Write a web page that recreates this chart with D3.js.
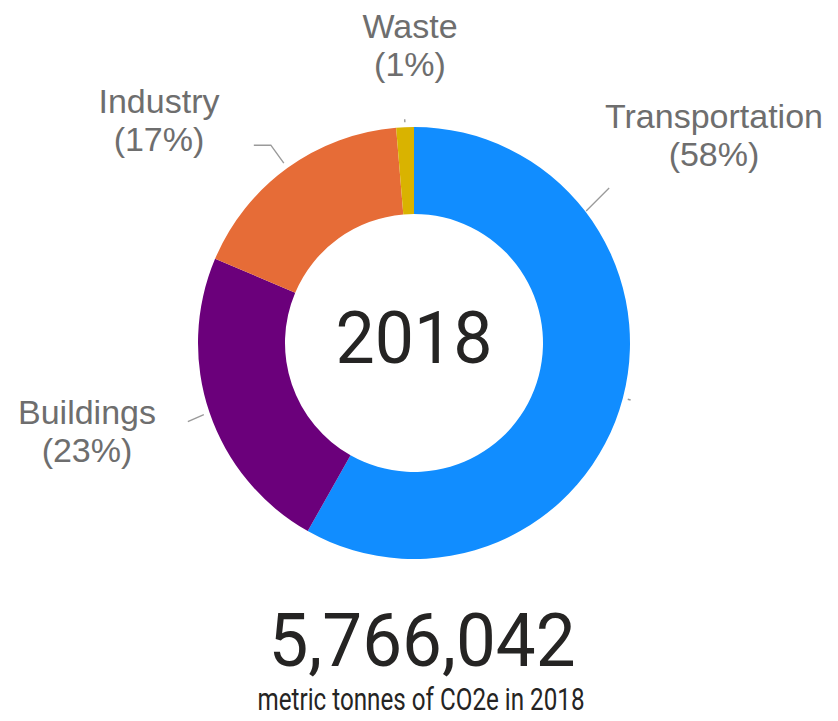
<!DOCTYPE html>
<html>
<head>
<meta charset="utf-8">
<script src="https://cdn.jsdelivr.net/npm/d3@7/dist/d3.min.js"></script>
<style>
  html, body { margin: 0; padding: 0; background: #ffffff; }
  svg { display: block; }
</style>
</head>
<body>
<svg id="chart" width="838" height="721"></svg>
<script>
// ---- data ----
const categories = ["Transportation", "Buildings", "Industry", "Waste"];
const values = [3355000, 1337000, 998000, 76042];   // metric tonnes CO2e, 2018
const colors = ["#118DFF", "#6B007B", "#E66C37", "#D9B300"];
const centerTitle = "2018";
const totalLabel = "metric tonnes of CO2e in 2018";

// ---- layout ----
const cx = 414, cy = 343;
const outerR = 216, innerR = 129;

const svg = d3.select("#chart");
const total = d3.sum(values);
const data = categories.map((c, i) => ({ name: c, value: values[i], color: colors[i] }));

const pie = d3.pie().value(d => d.value).sort(null);
const arcs = pie(data);
const arc = d3.arc().innerRadius(innerR).outerRadius(outerR);

const g = svg.append("g").attr("transform", `translate(${cx},${cy})`);
g.selectAll("path.slice")
  .data(arcs)
  .join("path")
  .attr("class", "slice")
  .attr("d", arc)
  .attr("fill", d => d.data.color);

// polar helper: angle measured clockwise from 12 o'clock
const polar = (a, r) => [Math.sin(a) * r, -Math.cos(a) * r];
const deg = Math.PI / 180;

// label placement (layout only)
const labelLayout = {
  "Transportation": { x: 714, y: 128 },
  "Buildings":      { x: 87,  y: 424 },
  "Industry":       { x: 159, y: 113 },
  "Waste":          { x: 410, y: 38 }
};

const fmtPct = d3.format(".0%");
const lineGap = 38;

// leader lines
const leaders = svg.append("g")
  .attr("fill", "none")
  .attr("stroke", "#9a9a9a")
  .attr("stroke-width", 1.4);

arcs.forEach(d => {
  const mid = (d.startAngle + d.endAngle) / 2;
  const p0 = polar(mid, outerR + 5);
  const p1 = polar(mid, outerR + 8);
  const name = d.data.name;
  if (name === "Transportation") {
    leaders.append("line")
      .attr("x1", cx + p0[0]).attr("y1", cy + p0[1])
      .attr("x2", cx + p1[0]).attr("y2", cy + p1[1]);
    const a = 52.5 * deg;
    const s = polar(a, outerR + 1);
    const e = [s[0] + 23, s[1] - 23];
    leaders.append("line")
      .attr("x1", cx + s[0]).attr("y1", cy + s[1])
      .attr("x2", cx + e[0]).attr("y2", cy + e[1]);
  } else if (name === "Industry") {
    const s = polar(mid, outerR + 6);
    const m = [s[0] - 13, s[1] - 18];
    const e = [m[0] - 17, m[1]];
    leaders.append("polyline")
      .attr("points", [s, m, e].map(p => `${cx + p[0]},${cy + p[1]}`).join(" "));
  } else if (name === "Buildings") {
    const s = polar(mid, outerR + 6);
    const e = [s[0] - 16, s[1] + 7];
    leaders.append("line")
      .attr("x1", cx + s[0]).attr("y1", cy + s[1])
      .attr("x2", cx + e[0]).attr("y2", cy + e[1]);
  } else {
    leaders.append("line")
      .attr("x1", cx + p0[0]).attr("y1", cy + p0[1])
      .attr("x2", cx + p1[0]).attr("y2", cy + p1[1]);
  }
});

// category labels
const labels = svg.append("g")
  .attr("font-family", "'Liberation Sans', Arial, sans-serif")
  .attr("font-size", 34)
  .attr("fill", "#6e6e6e")
  .attr("text-anchor", "middle");

arcs.forEach(d => {
  const L = labelLayout[d.data.name];
  const t = labels.append("text").attr("x", L.x).attr("y", L.y);
  t.append("tspan").attr("x", L.x).attr("y", L.y).text(d.data.name);
  t.append("tspan").attr("x", L.x).attr("y", L.y + lineGap)
    .text("(" + fmtPct(d.data.value / total) + ")");
});

// center title
svg.append("text")
  .attr("x", 414).attr("y", 363)
  .attr("text-anchor", "middle")
  .attr("font-family", "Roboto, 'DejaVu Sans', sans-serif")
  .attr("font-size", 72)
  .attr("fill", "#252423")
  .attr("textLength", 157)
  .attr("lengthAdjust", "spacingAndGlyphs")
  .text(centerTitle);

// total number
svg.append("text")
  .attr("x", 422).attr("y", 666)
  .attr("text-anchor", "middle")
  .attr("font-family", "Roboto, 'DejaVu Sans', sans-serif")
  .attr("font-size", 75)
  .attr("fill", "#252423")
  .attr("textLength", 307)
  .attr("lengthAdjust", "spacingAndGlyphs")
  .text(d3.format(",")(total));

// caption
svg.append("text")
  .attr("x", 421).attr("y", 710)
  .attr("text-anchor", "middle")
  .attr("font-family", "Roboto, 'DejaVu Sans', sans-serif")
  .attr("font-size", 32)
  .attr("fill", "#252423")
  .attr("textLength", 327)
  .attr("lengthAdjust", "spacingAndGlyphs")
  .text(totalLabel);
</script>
</body>
</html>
